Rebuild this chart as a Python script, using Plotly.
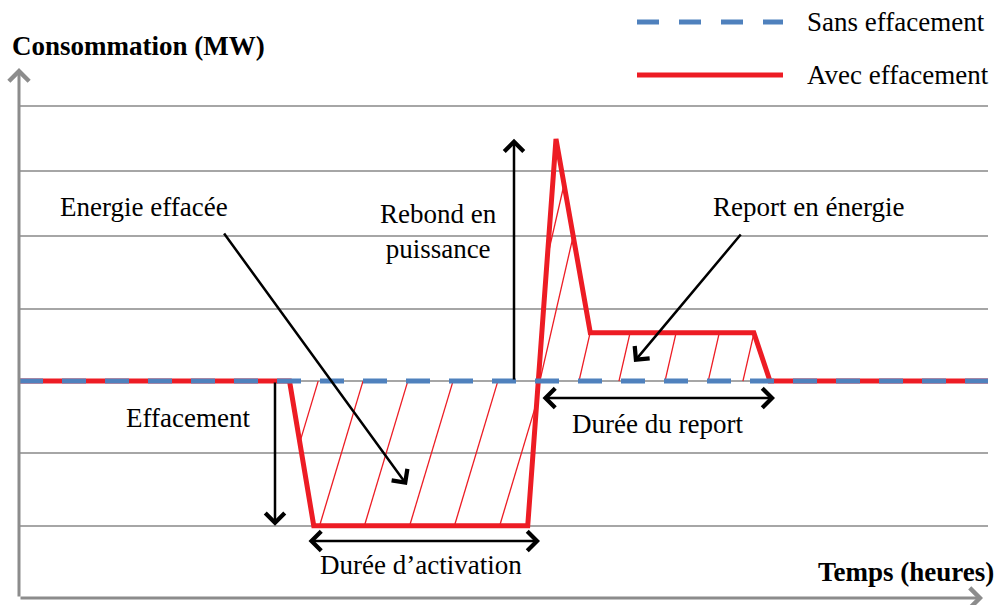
import numpy as np
import plotly.graph_objects as go

# ---------------- data ----------------
TIME_H = [0, 6.7, 7.3, 12.6, 13.3, 14.15, 18.2, 18.6, 24]          # hours
AVEC_MW = [3, 3, 1, 1, 6.35, 3.67, 3.67, 3, 3]                      # with load shedding
SANS_TIME_H = [0, 24]
SANS_MW = [3, 3]                                                   # without load shedding
GRID_MW = [1, 2, 3, 4, 5, 5.9, 6.8]                                # horizontal gridlines
HATCH_LOW_BASES = [7.41, 8.52, 9.63, 10.75, 11.86, 12.98]          # hatch lines (energy shed)
HATCH_HIGH_BASES = [12.38, 12.90, 13.87, 14.86, 16.0, 17.07, 17.93]  # hatch lines (energy report)

BASE = SANS_MW[0]
LOW = min(AVEC_MW)
PEAK = max(AVEC_MW)

# ---------------- layout geometry ----------------
W, H = 998, 605
ML, MR, MT, MB = 19, 10, 68, 7
PW, PH = W - ML - MR, H - MT - MB
X_RANGE = [0, 24]
Y_RANGE = [0, 7.33]
PPX = PW / (X_RANGE[1] - X_RANGE[0])
PPY = PH / (Y_RANGE[1] - Y_RANGE[0])


def px_x(px):
    return X_RANGE[0] + (px - ML) / PPX


def px_y(py):
    return Y_RANGE[0] + (H - MB - py) / PPY


def pp_x(px):
    return (px - ML) / PW


def pp_y(py):
    return (H - MB - py) / PH


RED = "#ED1C24"
BLUE = "#4F81BD"
GREY = "#8C8C8C"
FONT = "'Liberation Serif', 'Times New Roman', Times, 'DejaVu Serif', serif"
FS = 27


def hatch(bases, ratio_px, upper):
    """Parallel hatch lines clipped to the area between the two curves."""
    k = ratio_px * PPY / PPX
    if upper:
        ys = np.linspace(BASE, Y_RANGE[1], 4000)
    else:
        ys = np.linspace(Y_RANGE[0], BASE, 4000)
    hx, hy = [], []
    for xb in bases:
        xs = xb + k * (ys - BASE)
        r = np.interp(xs, TIME_H, AVEC_MW)
        if upper:
            inside = (ys >= BASE) & (ys <= r)
        else:
            inside = (ys <= BASE) & (ys >= r)
        idx = np.where(inside)[0]
        if len(idx) < 2:
            continue
        i0, i1 = idx[0], idx[-1]
        hx += [xs[i0], xs[i1], None]
        hy += [ys[i0], ys[i1], None]
    return hx, hy


fig = go.Figure()

lx, ly = hatch(HATCH_LOW_BASES, 0.30, upper=False)
ux, uy = hatch(HATCH_HIGH_BASES, 0.23, upper=True)
fig.add_trace(go.Scatter(x=lx + ux, y=ly + uy, mode="lines",
                         line=dict(color=RED, width=1.3), hoverinfo="skip",
                         showlegend=False))
fig.add_trace(go.Scatter(x=TIME_H, y=AVEC_MW, mode="lines", name="Avec effacement",
                         line=dict(color=RED, width=5), showlegend=False))
fig.add_trace(go.Scatter(x=SANS_TIME_H, y=SANS_MW, mode="lines", name="Sans effacement",
                         line=dict(color=BLUE, width=5, dash="24px,19px"),
                         showlegend=False))

ann = []


def arrow(x0, y0, x1, y1, color="black", width=2.5, head=4, size=1.5, both=False):
    ann.append(dict(x=x1, y=y1, ax=x0, ay=y0, xref="x", yref="y", axref="x", ayref="y",
                    text="", showarrow=True, arrowhead=head, arrowsize=size,
                    arrowwidth=width, arrowcolor=color, standoff=0, startstandoff=0,
                    startarrowhead=head, startarrowsize=size,
                    arrowside="end+start" if both else "end"))


def text(px, py, s, anchor="center", bold=False, size=FS):
    ann.append(dict(x=pp_x(px), y=pp_y(py), xref="paper", yref="paper", text=s,
                    showarrow=False, xanchor=anchor, yanchor="middle",
                    font=dict(family=FONT, size=size, color="black",
                              weight="bold" if bold else "normal")))


# axes with arrow heads (paper position, pixel tail offset)
ann.append(dict(x=pp_x(983), y=0, xref="paper", yref="paper", ax=-(983 - ML), ay=0,
                axref="pixel", ayref="pixel", text="", showarrow=True, arrowhead=4,
                arrowsize=1.3, arrowwidth=3, arrowcolor=GREY, standoff=0))
ann.append(dict(x=0, y=pp_y(68), xref="paper", yref="paper", ax=0, ay=(H - MB - 68),
                axref="pixel", ayref="pixel", text="", showarrow=True, arrowhead=4,
                arrowsize=1.3, arrowwidth=3, arrowcolor=GREY, standoff=0))

# explanatory arrows
arrow(px_x(223), px_y(232), px_x(407), px_y(485))                     # energie effacee
arrow(px_x(275), BASE, px_x(275), LOW)                                # effacement
arrow(px_x(514), BASE, px_x(514), PEAK)                               # rebond
arrow(px_x(742), px_y(233), px_x(634), px_y(362))                     # report en energie
arrow(px_x(307), px_y(541), px_x(540), px_y(541), both=True)          # duree activation
arrow(px_x(541), px_y(398), px_x(775), px_y(398), both=True)          # duree report

# texts
text(10, 46, "Consommation (MW)", anchor="left", bold=True)
text(996, 572, "Temps (heures)", anchor="right", bold=True)
text(144, 207, "Energie effacée")
text(438, 231, "Rebond en<br>puissance")
text(808, 207, "Report en énergie")
text(188, 418, "Effacement")
text(421, 565, "Durée d’activation")
text(657, 424, "Durée du report")
text(805, 22, "Sans effacement", anchor="left")
text(805, 75, "Avec effacement", anchor="left")

# legend samples
shapes = [
    dict(type="line", xref="paper", yref="paper", x0=pp_x(637), x1=pp_x(783),
         y0=pp_y(22), y1=pp_y(22), line=dict(color=BLUE, width=5, dash="22px,20px")),
    dict(type="line", xref="paper", yref="paper", x0=pp_x(637), x1=pp_x(783),
         y0=pp_y(75), y1=pp_y(75), line=dict(color=RED, width=5)),
]

fig.update_layout(
    width=W, height=H,
    margin=dict(l=ML, r=MR, t=MT, b=MB),
    paper_bgcolor="white", plot_bgcolor="white",
    showlegend=False,
    annotations=ann,
    shapes=shapes,
    xaxis=dict(range=X_RANGE, showgrid=False, zeroline=False, showline=False,
               showticklabels=False, ticks="", fixedrange=True),
    yaxis=dict(range=Y_RANGE, tickvals=GRID_MW, showgrid=True, gridcolor="#A6A6A6",
               gridwidth=2, zeroline=False, showline=False, showticklabels=False,
               ticks="", fixedrange=True),
)

fig.write_html("out.html",
               config={"displayModeBar": False},
               post_script="document.body.style.margin='0px';"
                           "document.body.style.overflow='hidden';")
